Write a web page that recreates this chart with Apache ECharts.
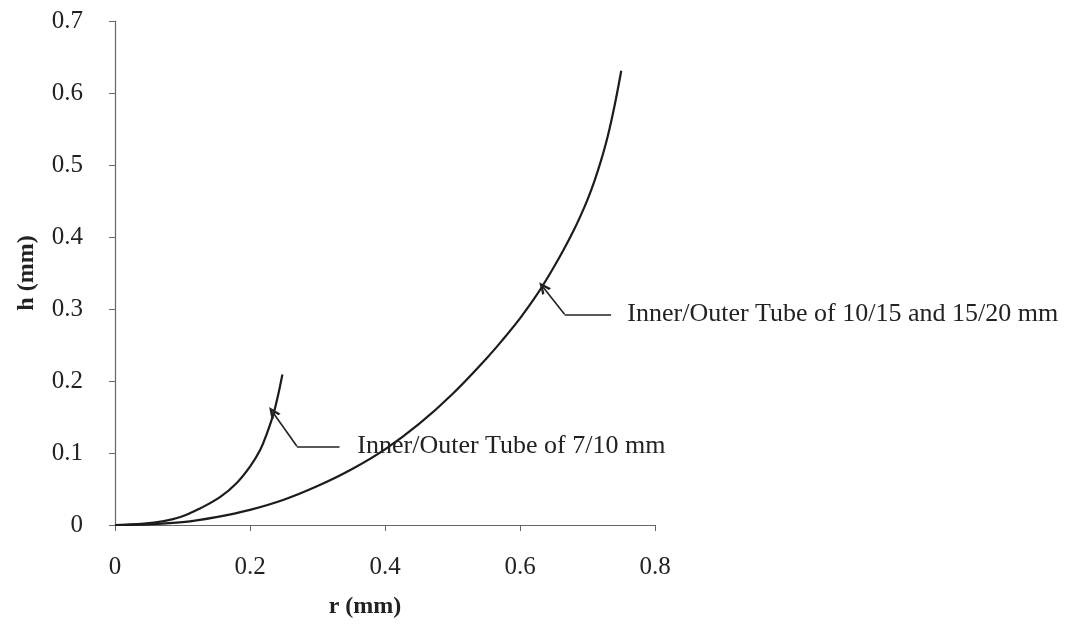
<!DOCTYPE html>
<html>
<head>
<meta charset="utf-8">
<script src="https://cdn.jsdelivr.net/npm/echarts@6/dist/echarts.min.js"></script>
<style>html,body{margin:0;padding:0;background:#fff;}#c{width:1074px;height:625px;}</style>
</head>
<body>
<div id="c"></div>
<script>
// Small tube (7/10 mm) curve: r (mm), h (mm)
const smallR = [0, 0.043, 0.07, 0.097, 0.126, 0.156, 0.18, 0.2, 0.215, 0.225, 0.235, 0.242, 0.248];
const smallH = [0, 0.002, 0.005, 0.011, 0.023, 0.039, 0.058, 0.081, 0.104, 0.127, 0.155, 0.182, 0.209];
// Large tube (10/15 and 15/20 mm) curve
const bigR = [0, 0.05, 0.1, 0.15, 0.2, 0.25, 0.3, 0.35, 0.4, 0.45, 0.5, 0.55, 0.575, 0.6, 0.62, 0.634, 0.65, 0.665, 0.68, 0.69, 0.70, 0.71, 0.72, 0.73, 0.74, 0.75];
const bigH = [0, 0.001, 0.004, 0.011, 0.021, 0.035, 0.054, 0.077, 0.105, 0.140, 0.182, 0.231, 0.258, 0.287, 0.313, 0.333, 0.358, 0.383, 0.410, 0.430, 0.452, 0.477, 0.506, 0.540, 0.582, 0.631];
// Annotations: arrow tip, elbow, line end, text start (data units)
const note1Tip = [0.2335, 0.157], note1Elbow = [0.2695, 0.1093], note1End = [0.3326, 0.1093], note1Text = [0.359, 0.1093];
const note1Label = 'Inner/Outer Tube of 7/10 mm';
const note2Tip = [0.634, 0.3306], note2Elbow = [0.666, 0.2926], note2End = [0.735, 0.2926], note2Text = [0.759, 0.2926];
const note2Label = 'Inner/Outer Tube of 10/15 and 15/20 mm';

const xTicks = {min: 0, max: 0.8, interval: 0.2};
const yTicks = {min: 0, max: 0.7, interval: 0.1};

const zip = (a, b) => a.map((v, i) => [v, b[i]]);
const FONT = 'Liberation Serif';
const chevron = 'path://M0,10 L5,0 L10,10 L7.6,10 L5,4.6 L2.4,10 Z';

function annotation(tip, elbow, end, textPos, label) {
  return {
    markLine: {
      silent: true, animation: false,
      lineStyle: {color: '#222', width: 1.6, type: 'solid'},
      label: {show: false},
      data: [
        [{coord: elbow, symbol: 'none'}, {coord: tip, symbol: chevron, symbolSize: [11, 12]}],
        [{coord: end, symbol: 'none'}, {coord: elbow, symbol: 'none'}]
      ]
    },
    markPoint: {
      silent: true, animation: false,
      symbol: 'circle', symbolSize: 0,
      label: {show: true, position: 'right', distance: 0, color: '#222',
        fontFamily: FONT, fontSize: 26, formatter: label},
      data: [{coord: textPos}]
    }
  };
}

const chart = echarts.init(document.getElementById('c'), null, {renderer: 'canvas'});
chart.setOption({
  backgroundColor: '#fff',
  animation: false,
  grid: {left: 115, right: 419, top: 21, bottom: 100, containLabel: false},
  xAxis: {
    type: 'value', min: xTicks.min, max: xTicks.max, interval: xTicks.interval,
    name: 'r (mm)', nameLocation: 'middle', nameGap: 70,
    nameTextStyle: {fontFamily: FONT, fontSize: 24, fontWeight: 'bold', color: '#222', padding: [0, 40, 0, 0]},
    axisLine: {show: true, onZero: false, lineStyle: {color: '#666', width: 1.2}},
    axisTick: {show: true, inside: false, length: 6, lineStyle: {color: '#666'}},
    axisLabel: {margin: 30, fontFamily: FONT, fontSize: 25, color: '#222'},
    splitLine: {show: false}
  },
  yAxis: {
    type: 'value', min: yTicks.min, max: yTicks.max, interval: yTicks.interval,
    name: 'h (mm)', nameLocation: 'middle', nameGap: 76,
    nameTextStyle: {fontFamily: FONT, fontSize: 24, fontWeight: 'bold', color: '#222'},
    axisLine: {show: true, lineStyle: {color: '#666', width: 1.2}},
    axisTick: {show: true, inside: false, length: 6, lineStyle: {color: '#666'}},
    axisLabel: {margin: 32, fontFamily: FONT, fontSize: 25, color: '#222'},
    splitLine: {show: false}
  },
  series: [
    Object.assign({
      type: 'line', name: 'small', data: zip(smallR, smallH), smooth: 0.4,
      showSymbol: false, lineStyle: {color: '#1c1c1c', width: 2.2}, z: 3
    }, annotation(note1Tip, note1Elbow, note1End, note1Text, note1Label)),
    Object.assign({
      type: 'line', name: 'big', data: zip(bigR, bigH), smooth: 0.4,
      showSymbol: false, lineStyle: {color: '#1c1c1c', width: 2.2}, z: 3
    }, annotation(note2Tip, note2Elbow, note2End, note2Text, note2Label))
  ]
});
</script>
</body>
</html>
